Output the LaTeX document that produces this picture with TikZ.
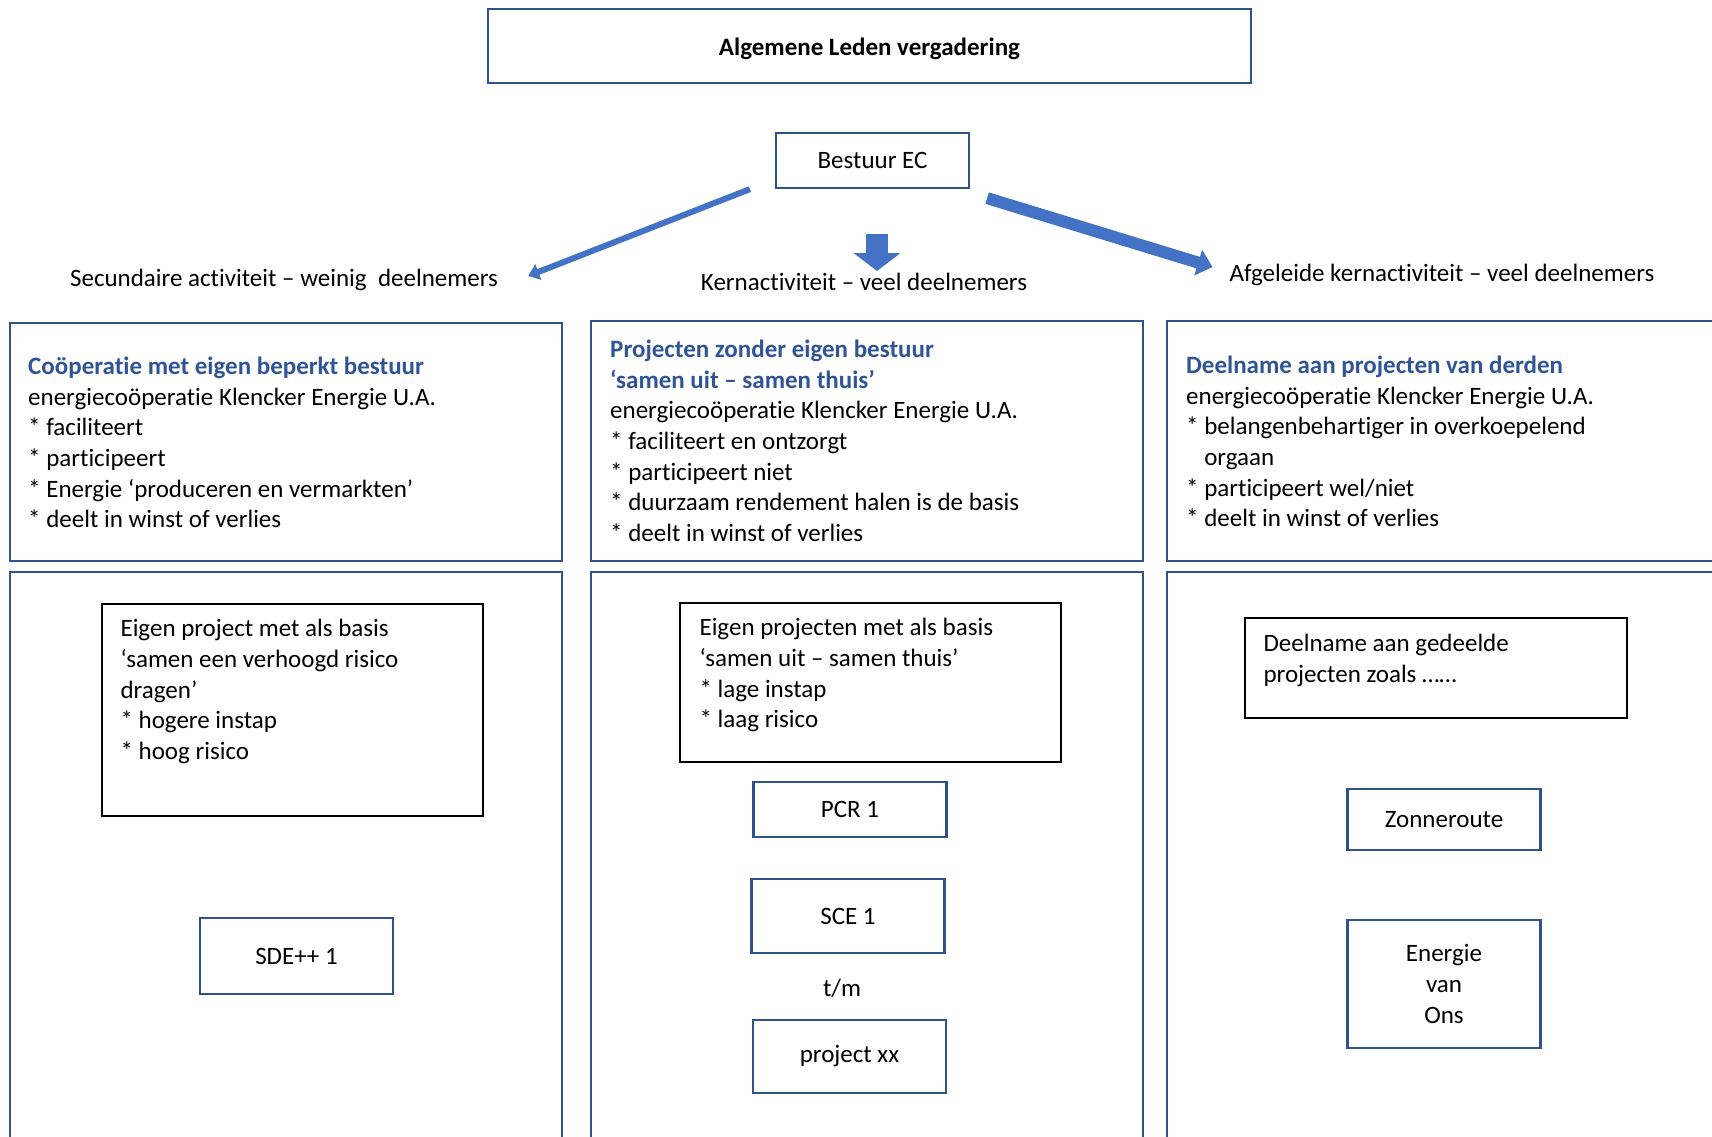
\documentclass[tikz,border=0pt]{standalone}
\usepackage{fontspec}
\setmainfont[Ligatures={NoCommon}]{Carlito}
\usetikzlibrary{arrows.meta}
\usetikzlibrary{positioning}
\definecolor{rand}{RGB}{47,82,143}
\definecolor{kopblauw}{RGB}{47,85,151}
\definecolor{pijlblauw}{RGB}{68,114,196}
\tikzstyle{kader} = [draw=rand, line width=2pt, inner sep=0pt]
\tikzstyle{blok} = [draw=rand, line width=2.2pt, minimum width=193pt, inner sep=0pt]
\tikzstyle{tekstvak} = [draw=black, line width=1.3pt, inner sep=0pt]
\tikzstyle{lijst} = [anchor=north west, align=left, inner sep=0pt]
\tikzstyle{opschrift} = [inner sep=0pt]
\tikzstyle{pijl} = [draw=pijlblauw]
\newcommand{\kop}[1]{\textcolor{kopblauw}{\textbf{#1}}}

\begin{document}
\begin{tikzpicture}[x=1pt, y=-1pt, font=\fontsize{25}{30.6}\selectfont]
    \clip (0,0) rectangle (1712,1136);

    \node [blok, minimum width=763pt, minimum height=74pt, text height=24pt, text depth=5pt, name=alv] at (869.5,46) {\textbf{Algemene Leden vergadering}};
    \node [blok, minimum height=55pt, name=bestuur] at (872.5,160.5) {Bestuur EC};

    \node [opschrift, name=secundair] at (284,280) {Secundaire activiteit -- weinig\ \ deelnemers};
    \node [opschrift, name=kern] at (864,282) {Kernactiviteit -- veel deelnemers};
    \node [opschrift, name=afgeleid] at (1442,275) {Afgeleide kernactiviteit -- veel deelnemers};

    \draw [pijl, line width=6pt, -{Triangle[width=16pt,length=11pt]}]
        ([xshift=-25pt]bestuur.south west) -- ([xshift=30pt,yshift=4pt]secundair.east);
    \draw [pijl, line width=22pt, -{Triangle[width=46pt,length=18pt]}]
        ([xshift=4.5pt,yshift=-45pt]bestuur.south) -- ([xshift=13pt,yshift=2pt]kern.north);
    \draw [pijl, line width=12pt, -{Triangle[width=26pt,length=15pt]}]
        ([xshift=17pt,yshift=-9pt]bestuur.south east) -- ([xshift=-17pt,yshift=8pt]afgeleid.west);

    \node [kader, minimum width=552pt, minimum height=238pt, name=secboven] at (286,442) {};
    \node [kader, minimum width=552pt, minimum height=240pt, name=kernboven] at (867,441) {};
    \node [kader, minimum width=560pt, minimum height=240pt, name=afgboven] at (1447,441) {};
    \node [kader, minimum width=552pt, minimum height=588pt, name=seconder] at (286,866) {};
    \node [kader, minimum width=552pt, minimum height=588pt, name=kernonder] at (867,866) {};
    \node [kader, minimum width=560pt, minimum height=588pt, name=afgonder] at (1447,866) {};

    \node [lijst, below right=35pt and 19pt of secboven.north west] {\kop{Coöperatie met eigen beperkt bestuur}\\
        energiecoöperatie Klencker Energie U.A.\\
        * faciliteert\\
        * participeert\\
        * Energie ‘produceren en vermarkten’\\
        * deelt in winst of verlies};
    \node [lijst, below right=20pt and 20pt of kernboven.north west] {\kop{Projecten zonder eigen bestuur}\\
        \kop{‘samen uit -- samen thuis’}\\
        energiecoöperatie Klencker Energie U.A.\\
        * faciliteert en ontzorgt\\
        * participeert niet\\
        * duurzaam rendement halen is de basis\\
        * deelt in winst of verlies};
    \node [lijst, below right=36pt and 20pt of afgboven.north west] {\kop{Deelname aan projecten van derden}\\
        energiecoöperatie Klencker Energie U.A.\\
        * belangenbehartiger in overkoepelend\\
        \phantom{* }orgaan\\
        * participeert wel/niet\\
        * deelt in winst of verlies};

    \node [tekstvak, minimum width=381pt, minimum height=212pt, name=eigenproject] at (292.5,710) {};
    \node [lijst, below right=16pt and 19pt of eigenproject.north west] {Eigen project met als basis\\
        ‘samen een verhoogd risico\\
        dragen’\\
        * hogere instap\\
        * hoog risico};
    \node [blok, minimum height=76pt, name=sde] at (296.5,956) {SDE++ 1};

    \node [tekstvak, minimum width=381pt, minimum height=159pt, name=eigenprojecten] at (870.5,682.5) {};
    \node [lijst, below right=16pt and 20pt of eigenprojecten.north west] {Eigen projecten met als basis\\
        ‘samen uit -- samen thuis’\\
        * lage instap\\
        * laag risico};
    \node [blok, minimum height=55pt, name=pcr] at (850,809.5) {PCR 1};
    \node [blok, minimum height=74pt, name=sce] at (848,916) {SCE 1};
    \node [opschrift, name=tm] at (842,988) {t/m};
    \node [blok, minimum height=73pt, name=projectxx] at (849.5,1056.5) {project xx};

    \node [tekstvak, minimum width=382pt, minimum height=100pt, name=gedeeld] at (1436,668) {};
    \node [lijst, below right=17pt and 19pt of gedeeld.north west] {Deelname aan gedeelde\\
        projecten zoals ……};
    \node [blok, minimum height=61pt, name=zonneroute] at (1444,819.5) {Zonneroute};
    \node [blok, minimum height=128pt, align=center, name=evo] at (1444,984) {Energie\\ van\\ Ons};
\end{tikzpicture}
\end{document}
